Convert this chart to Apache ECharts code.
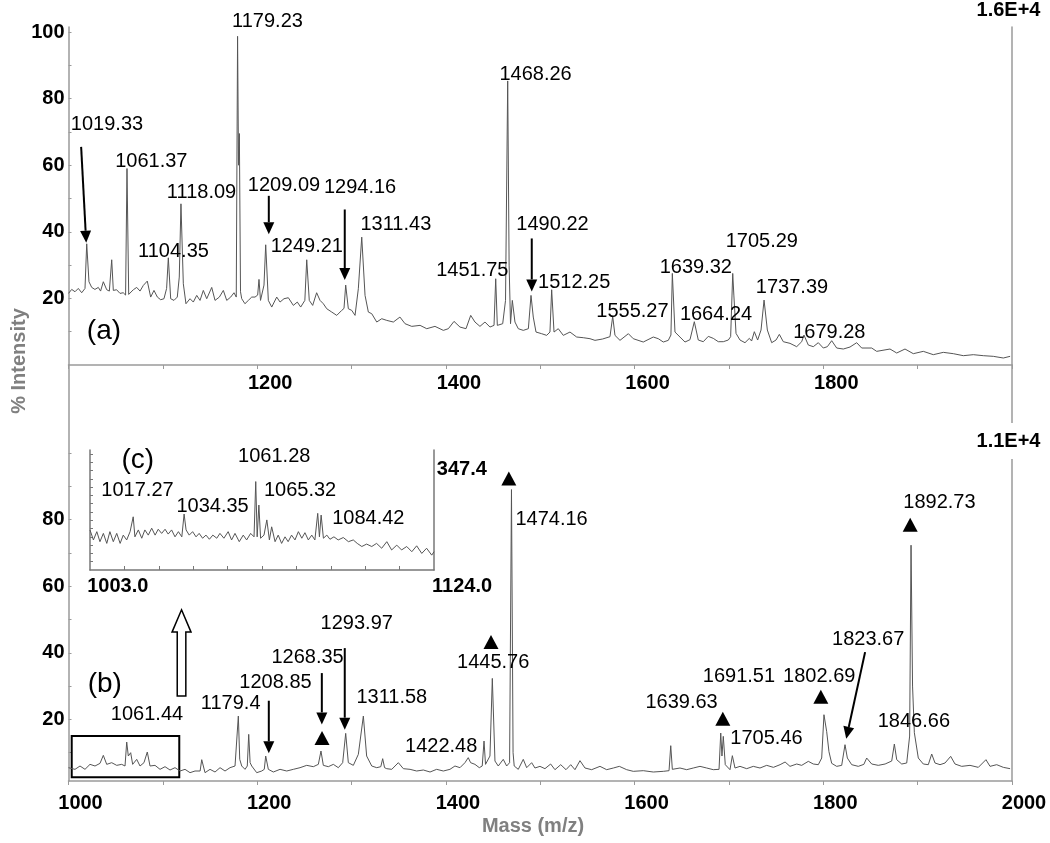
<!DOCTYPE html>
<html>
<head>
<meta charset="utf-8">
<script src="https://cdn.jsdelivr.net/npm/echarts@6/dist/echarts.min.js"></script>
<style>html,body{margin:0;padding:0;background:#fff}#c{width:1050px;height:843px}</style>
</head>
<body>
<div id="c"></div>
<script>
// ---------- DATA (m/z, % intensity) ----------
const topSpectrum = [[1000,21.5],[1003.4,22.7],[1006.9,22],[1010.4,23],[1014,21.7],[1017.5,23],[1019.3,36.4],[1021.7,25],[1024.6,23.3],[1028,22.7],[1031.6,23.3],[1034,22.2],[1036.9,25],[1040.5,22.6],[1043.3,22.2],[1045.8,31.6],[1047.5,22.4],[1051,22.6],[1054.6,21.5],[1058,21.7],[1060.5,21],[1062,59],[1063.8,21.2],[1068.7,22.6],[1072.3,23.3],[1075.8,22.2],[1079.3,23.9],[1083.5,25.2],[1087.1,20.4],[1090.6,22.4],[1094.2,20.4],[1097.7,19.6],[1101.2,19.9],[1104,23],[1105.8,32.2],[1108.3,19.9],[1111.8,19.4],[1115.3,20.4],[1117.4,26.4],[1119.2,48.4],[1121.7,24.4],[1124.5,18.4],[1128.8,19.9],[1132.3,18.9],[1135.9,20.9],[1139.4,19.4],[1142.9,22.4],[1146.5,19.9],[1151.8,23.3],[1155.3,19.4],[1159.9,20.4],[1164.1,22.4],[1167.7,19.4],[1171.9,20.4],[1175.4,21.7],[1177.8,20.4],[1179.2,98.7],[1180.2,60],[1181.1,69.5],[1182.3,22],[1183.6,19.9],[1187,18.4],[1190.6,19.4],[1194.2,20.4],[1197.7,20.4],[1200.5,21],[1201.9,25.7],[1203.5,19.4],[1204.8,19.4],[1207.2,24],[1209,36.1],[1211.8,19.4],[1215.4,17.4],[1220.7,20.4],[1224.2,18.9],[1228.4,19.9],[1233,20.2],[1238.3,17.9],[1242.5,18.9],[1246.1,17.4],[1250.5,19.4],[1252.5,31.6],[1255.2,19.4],[1258.8,17.9],[1263,21.7],[1266.6,19.4],[1270.1,18.4],[1273.7,16.9],[1279,15.9],[1284.3,14.9],[1289.6,16.4],[1292,17],[1293.8,24],[1296.6,16.9],[1300.2,16.4],[1303.7,14.9],[1307.2,22.9],[1310.8,38.4],[1314.3,20.9],[1317.8,15.9],[1321.4,15.4],[1326.7,12.9],[1332,13.9],[1337.3,13.4],[1344.3,12.9],[1351.3,14.4],[1356.7,12.4],[1363.8,11.6],[1372.6,11.9],[1379.7,10.9],[1388.4,11.6],[1397.3,10.4],[1402.6,10.9],[1408.6,13.1],[1414.9,11.4],[1421.3,10.9],[1426.3,14.9],[1430.8,12.9],[1436.1,11.6],[1441.4,12.9],[1446.7,11.4],[1451,11.9],[1452.8,25.9],[1454.5,11.9],[1460.2,12.4],[1463.2,19.4],[1465.5,85.3],[1467,30],[1468.5,12.4],[1470.4,19.4],[1473.2,12.9],[1476.7,10.9],[1482,10.4],[1487.4,10.9],[1490.2,20.9],[1492.6,14.4],[1495.5,9.9],[1501.5,9.4],[1506.8,8.9],[1510.3,9.9],[1512.1,22.6],[1514.6,9.9],[1519.1,10.9],[1524.4,8.9],[1531.5,9.9],[1538.6,8.4],[1545.6,8.2],[1552.7,7.9],[1558,7.4],[1566,7.8],[1573.9,8.5],[1576.8,14.6],[1579.2,8.9],[1584.5,7.4],[1593.4,9.4],[1598.6,7.9],[1609.2,6.9],[1619.8,8.4],[1625.1,7.9],[1630.4,6.9],[1635.7,7.4],[1638.5,9],[1640,27.5],[1642.8,9.9],[1648.1,8.4],[1653.4,6.9],[1658.7,7.6],[1663.3,13],[1667.5,7.5],[1672.8,7],[1678.1,8.6],[1683.4,8],[1688.7,7],[1694,7],[1699.3,7.5],[1701.8,8.5],[1704,27.5],[1705.2,21],[1707.5,9.5],[1711.7,7.5],[1717,6.7],[1721.6,8],[1724,7.2],[1726.9,10],[1730.4,7.5],[1734,10.5],[1737.2,19.5],[1740.7,10.5],[1745.3,6.7],[1749.9,7.5],[1753.4,9.2],[1757.6,7],[1764.7,6.5],[1771.8,5.5],[1777.1,7],[1779.5,9],[1784.1,6],[1789.4,5.5],[1794.7,6.7],[1800,5.1],[1804.3,5.5],[1808.9,7.3],[1814.2,5.1],[1821.2,4.8],[1828.3,5.4],[1835.4,6.7],[1840.7,5.1],[1851.3,5.1],[1856.6,4.1],[1870.7,4.8],[1877.8,3.6],[1886.6,4.8],[1895.4,3.4],[1906,4.1],[1916.6,3.1],[1927.2,3.8],[1937.8,3.4],[1948.4,2.8],[1959,3.1],[1969.6,2.8],[1980.2,2.6],[1990.8,2.1],[1998,2.6]];

const bottomSpectrum = [[1000,5.5],[1001.6,5.5],[1006.9,5],[1012.2,6],[1017.5,5],[1022.8,6.5],[1028.1,6],[1033.4,6.8],[1036.9,9.2],[1040.5,6.5],[1045.8,7],[1051.1,6.2],[1056.4,6.5],[1059.9,6],[1061.7,13.2],[1063.4,9],[1065.9,10],[1068,6.5],[1072.3,8],[1075.8,6],[1080,7],[1083.5,10.2],[1086.4,6],[1091.7,6.2],[1097,5],[1102.3,5.8],[1107.6,4.8],[1112.9,5.5],[1118.2,4.5],[1123.5,5],[1128.8,4],[1134.1,4.5],[1139.5,4.5],[1141.2,7.9],[1144.7,4],[1150,5],[1155.3,4.2],[1160.6,5.5],[1165.9,4.5],[1171.2,5.5],[1176.5,6],[1178.5,6],[1180,21],[1181.5,8],[1183.6,6],[1187.1,5],[1189.5,6],[1191,15.5],[1192.5,7],[1194.2,6],[1199.5,4],[1204.8,4.5],[1207.5,5],[1209,9],[1211.8,5],[1217.1,4.2],[1224.2,5],[1231.3,4.5],[1238.3,5],[1245.4,5.5],[1252.5,6.2],[1259.5,5.8],[1264.8,6.5],[1267.6,10.5],[1270.1,6.2],[1275.4,5.8],[1280.7,6.5],[1286,5.5],[1290.6,7],[1293.8,15.8],[1296.6,7],[1301.9,6.2],[1307.2,9.5],[1312.5,21],[1316,9],[1321.4,6],[1326.7,5.5],[1331,5.8],[1333,8.2],[1335,5.5],[1337.3,5.2],[1342.6,5],[1349.6,7],[1354.9,5.2],[1362,5],[1369,4.5],[1376.1,4.8],[1383.2,4.2],[1390.2,5],[1397.3,4.5],[1404.3,5],[1409.6,6],[1414.9,5.5],[1420.2,7],[1423.7,8.5],[1426.2,7],[1430.8,6.5],[1435.4,5.5],[1438.5,6],[1440.4,13.5],[1442,6.5],[1443.2,6.2],[1446.7,9],[1449.2,32.3],[1452,7.5],[1455.5,6],[1460.8,8],[1464.4,6],[1467.5,7],[1469.5,89],[1471.2,10],[1472.4,6],[1476.7,5],[1482,8],[1485.6,5.5],[1490.9,7],[1494.4,5.4],[1499.7,5.9],[1505,5.2],[1511,6.6],[1515.6,4.9],[1521.7,6.4],[1527.3,4.9],[1532.3,6.4],[1536.8,4.9],[1542.1,7.6],[1547.4,5.4],[1554.5,4.9],[1563.3,5.9],[1570.4,4.9],[1577.5,5.4],[1583.8,5.9],[1591.6,4.9],[1598.6,4.4],[1609.2,4.6],[1619.8,4.2],[1630.4,4.4],[1636.5,4.6],[1638.3,12.1],[1640,5],[1641,4.9],[1648.1,5.4],[1655.2,4.9],[1662.2,5.4],[1669.3,5.9],[1676.4,5.4],[1683.4,4.9],[1689.5,5],[1691.3,15.9],[1692.6,9],[1694,14.9],[1696.1,6.4],[1701.1,4.9],[1703.6,9.1],[1706.4,5.4],[1711.7,5.9],[1718.8,5.2],[1725.8,5.9],[1732.9,5.4],[1740,6.2],[1747.1,5.6],[1754.2,6.4],[1759.5,7.2],[1764.7,5.9],[1771.8,6.6],[1777.1,6.2],[1784.1,7.4],[1789.4,6.6],[1794.7,6.4],[1798.3,8.4],[1800.7,21.4],[1803.6,16.3],[1806,10.3],[1808.9,6.8],[1814.2,5.9],[1819.5,6.2],[1821.5,6.5],[1823,12.4],[1825.5,8.4],[1830.1,6.4],[1837.1,5.9],[1843,6.5],[1846,8.4],[1851.3,6.6],[1858.3,6.2],[1865.5,6.6],[1872.5,7.5],[1875.3,12.6],[1877.8,7.9],[1883.1,6.6],[1888.4,6.9],[1891.5,15],[1893,72.3],[1894.6,30],[1896.5,16],[1900.7,8.4],[1906,6.6],[1911.3,6.4],[1914.9,9.6],[1918.4,6.9],[1923.7,6.4],[1929,6.9],[1935,8.9],[1939.6,6.6],[1946.7,5.9],[1955.5,6.2],[1964.3,5.6],[1972.4,7.9],[1976.7,5.9],[1983.8,6.4],[1990.8,5.6],[1998,5.2]];

// inset (c): m/z 1003.0 - 1124.0, counts (max 347.4)
const insetSpectrum = [[1003,115.8],[1004.2,86.9],[1005.4,111],[1006.5,82],[1007.7,106],[1008.9,77],[1010,111],[1011.2,82],[1012.4,106],[1013.6,77],[1014.7,101],[1015.9,87],[1017.1,111],[1018.2,154],[1018.8,96],[1020,116],[1021.2,92],[1022.3,116],[1023.5,101],[1024.7,121],[1025.9,101],[1027,118],[1028.2,106],[1029.4,118],[1030.5,104],[1031.7,116],[1032.9,96],[1034.1,111],[1035.3,96],[1036.1,162],[1036.8,116],[1037.9,101],[1039.1,111],[1040.3,96],[1041.4,106],[1042.6,92],[1043.8,101],[1045,89],[1046.2,101],[1047.6,92],[1048.7,106],[1050.1,92],[1051.6,111],[1052.8,87],[1054,106],[1055.5,82],[1056.9,101],[1058.1,87],[1059.5,106],[1060.7,96],[1061.3,256],[1061.8,96],[1062.4,188],[1063,92],[1064.2,101],[1065.2,145],[1066.1,87],[1066.9,125],[1068.1,82],[1069.2,101],[1070.4,77],[1071.6,96],[1072.7,82],[1073.9,101],[1075.1,87],[1076.3,111],[1077.5,92],[1078.6,108],[1079.8,87],[1081,101],[1082.1,87],[1083.1,164],[1083.7,96],[1084.3,159],[1085.1,92],[1086.3,101],[1087.4,89],[1088.8,96],[1090.3,87],[1092.1,94],[1093.9,82],[1095.6,87],[1097,77],[1098.6,68],[1100.3,75],[1102.1,68],[1103.8,77],[1105.6,63],[1107.4,82],[1109.1,58],[1110.9,72],[1112.6,58],[1114.4,68],[1116.2,53],[1117.9,70],[1119.7,48],[1121.4,63],[1123.2,43],[1124,53]];

// tick / label values
const xTicks = [1000,1100,1200,1300,1400,1500,1600,1700,1800,1900,2000];
const xLabelsTop = [1200,1400,1600,1800];
const xLabelsBottom = [1000,1200,1400,1600,1800,2000];
const yTicks = [10,20,30,40,50,60,70,80,90,100];
const yLabelsTop = [20,40,60,80,100];
const yLabelsBottom = [20,40,60,80];
const insetXTicks = [1015.1,1027.2,1039.3,1051.4,1063.5,1075.6,1087.7,1099.8,1111.9];
const insetYTicks = [24,48,72,96,120,144,168,192,216,240,264,288,312,336];

// annotations [m/z, intensity, text]
const topLabels = [[1210.9,103.3,'1179.23'],[1040.8,72.2,'1019.33'],[1087.8,61.1,'1061.37'],[1141,51.7,'1118.09'],[1111.3,34,'1104.35'],[1228.4,54,'1209.09'],[1309,53.3,'1294.16'],[1252.6,35.5,'1249.21'],[1347,42.1,'1311.43'],[1428,28.4,'1451.75'],[1495,87.3,'1468.26'],[1513,42.2,'1490.22'],[1536,24.8,'1512.25'],[1597.7,16.2,'1555.27'],[1664.9,29.4,'1639.32'],[1734.8,37,'1705.29'],[1686.3,15.2,'1664.24'],[1766.8,23.3,'1737.39'],[1806.4,9.8,'1679.28']];
const bottomLabels = [[1305.5,48.8,'1293.97'],[1253.4,38.7,'1268.35'],[1219.4,31.1,'1208.85'],[1171.9,24.8,'1179.4'],[1342.7,26.6,'1311.58'],[1083.2,21.5,'1061.44'],[1395,11.9,'1422.48'],[1450.1,37,'1445.76'],[1512,80,'1474.16'],[1923.1,85,'1892.73'],[1847.6,43.9,'1823.67'],[1710.6,32.9,'1691.51'],[1795.7,32.9,'1802.69'],[1649.8,25.1,'1639.63'],[1739.8,14.4,'1705.46'],[1896,19.5,'1846.66']];
const insetLabels = [[1019.7,229,'1017.27'],[1046.1,183,'1034.35'],[1067.8,328,'1061.28'],[1076.9,231.6,'1065.32'],[1100.9,149.7,'1084.42']];
const insetAxisLabels = [[1002,-49,'1003.0'],[1123.3,-49,'1124.0'],[1125,292,'347.4']];
const topLetter = [[1037.6,10.1,'(a)']];
const bottomLetter = [[1038.5,30.4,'(b)']];
const insetLetter = [[1019.8,319,'(c)']];

// arrows [fromX, fromY, tipX, tipY]
const topArrows = [[1013.4,65.5,1018.8,36.7],[1212.3,50.8,1212.3,39.3],[1292.8,46.7,1292.8,25.5],[1491,38,1491,22.1]];
const bottomArrows = [[1212.3,25.6,1212.3,9.8],[1268.5,33.9,1268.5,18.5],[1292.8,41.4,1292.8,16.9],[1844.3,40.2,1824.3,14.2]];
// triangles marking peaks (bottom)
const triangles = [[1268.7,14.4],[1447.8,43.2],[1466.7,92.3],[1892.1,78.4],[1693.5,20.2],[1797.4,26.8]];
// hollow arrow [x, tipY, headBaseY, bottomY]
const hollowArrow = [[1119.8,52.9,46.2,27]];
// zoom box [x1, y1, x2, y2]
const zoomBox = [1003.4,2.6,1117.4,15];

// ---------- CHART ----------
const FONT = '"Liberation Sans", Arial, Helvetica, sans-serif';
const AX = '#9a9a9a';
const chart = echarts.init(document.getElementById('c'), null, {renderer:'canvas'});

function toNamed(arr){ return arr.map(a => ({value:[a[0],a[1]], name:a[2]})); }
function labelSeries(arr, xi, yi, opts){
  return {
    type:'scatter', xAxisIndex:xi, yAxisIndex:yi, clip:false, silent:true,
    symbol:'circle', symbolSize:1, itemStyle:{color:'rgba(0,0,0,0)', opacity:1},
    data: toNamed(arr), z:10,
    label: Object.assign({show:true, position:'inside', formatter:'{b}', color:'#000', opacity:1,
      textBorderWidth:0, fontSize:20, fontFamily:FONT}, opts||{})
  };
}
function arrowSeries(arr, xi, yi){
  return {
    type:'custom', xAxisIndex:xi, yAxisIndex:yi, silent:true, z:9,
    encode:{x:[0,2], y:[1,3]},
    data: arr,
    renderItem: function(params, api){
      const p1 = api.coord([api.value(0), api.value(1)]);
      const p2 = api.coord([api.value(2), api.value(3)]);
      const dx = p2[0]-p1[0], dy = p2[1]-p1[1];
      const L = Math.sqrt(dx*dx+dy*dy), ux = dx/L, uy = dy/L;
      const hl = 12, hw = 5.5;
      const bx = p2[0]-ux*hl, by = p2[1]-uy*hl;
      return {type:'group', children:[
        {type:'line', shape:{x1:p1[0], y1:p1[1], x2:bx, y2:by}, style:{stroke:'#000', lineWidth:2}},
        {type:'polygon', shape:{points:[[p2[0],p2[1]],[bx-uy*hw, by+ux*hw],[bx+uy*hw, by-ux*hw]]}, style:{fill:'#000'}}
      ]};
    }
  };
}
const plain = v => String(v);
const labelStyle = {color:'#000', fontSize:20, fontWeight:'bold', fontFamily:FONT, formatter:plain};

const option = {
  animation:false,
  backgroundColor:'#fff',
  grid:[
    {left:68.5, right:38, top:27, bottom:478, outerBoundsMode:'none'},
    {left:68.5, right:38, top:365, bottom:62, outerBoundsMode:'none'},
    {left:90, right:616, top:450, bottom:273, outerBoundsMode:'none'}
  ],
  xAxis:[
    {gridIndex:0, type:'value', min:1000, max:2000,
     axisLine:{show:true, onZero:false, lineStyle:{color:AX, width:1.5}},
     axisTick:{show:true, customValues:xTicks, length:4, lineStyle:{color:AX}},
     axisLabel:Object.assign({customValues:xLabelsTop, margin:8, padding:[0,0,0,26]}, labelStyle),
     splitLine:{show:false}},
    {gridIndex:1, type:'value', min:1000, max:2000,
     axisLine:{show:true, onZero:false, lineStyle:{color:AX, width:1.5}},
     axisTick:{show:true, customValues:xTicks, length:4, lineStyle:{color:AX}},
     axisLabel:Object.assign({customValues:xLabelsBottom, margin:12, padding:[0,0,0,24]}, labelStyle),
     splitLine:{show:false}},
    {gridIndex:2, type:'value', min:1003, max:1124,
     axisLine:{show:true, onZero:false, lineStyle:{color:'#777', width:1.5}},
     axisTick:{show:true, inside:true, customValues:insetXTicks, length:4, lineStyle:{color:'#777'}},
     axisLabel:{show:false}, splitLine:{show:false}}
  ],
  yAxis:[
    {gridIndex:0, type:'value', min:0, max:101.5,
     axisLine:{show:true, onZero:false, lineStyle:{color:AX, width:1.5}},
     axisTick:{show:true, inside:true, customValues:yTicks, length:3, lineStyle:{color:AX}},
     axisLabel:Object.assign({customValues:yLabelsTop, margin:4, padding:[6,0,0,0]}, labelStyle),
     splitLine:{show:false}},
    {gridIndex:0, type:'value', position:'right', min:0, max:101.5,
     axisLine:{show:true, onZero:false, lineStyle:{color:AX, width:1.5}},
     axisTick:{show:false}, axisLabel:{show:false}, splitLine:{show:false}},
    {gridIndex:1, type:'value', min:1.5, max:126.4,
     axisLine:{show:true, onZero:false, lineStyle:{color:AX, width:1.5}},
     axisTick:{show:true, inside:true, customValues:yTicks, length:3, lineStyle:{color:AX}},
     axisLabel:Object.assign({customValues:yLabelsBottom, margin:4, padding:[6,0,0,0]}, labelStyle),
     splitLine:{show:false}},
    {gridIndex:1, type:'value', position:'right', min:1.5, max:126.4,
     axisLine:{show:true, onZero:false, lineStyle:{color:AX, width:1.5}},
     axisTick:{show:false}, axisLabel:{show:false}, splitLine:{show:false}},
    {gridIndex:2, type:'value', min:0, max:347.4,
     axisLine:{show:true, onZero:false, lineStyle:{color:'#777', width:1.5}},
     axisTick:{show:true, inside:true, customValues:insetYTicks, length:3, lineStyle:{color:'#777'}},
     axisLabel:{show:false}, splitLine:{show:false}},
    {gridIndex:2, type:'value', position:'right', min:0, max:347.4,
     axisLine:{show:true, onZero:false, lineStyle:{color:'#777', width:1.5}},
     axisTick:{show:false}, axisLabel:{show:false}, splitLine:{show:false}}
  ],
  series:[
    {type:'line', xAxisIndex:0, yAxisIndex:0, data:topSpectrum, symbol:'none',
     lineStyle:{color:'#555', width:1}, silent:true},
    {type:'line', xAxisIndex:1, yAxisIndex:2, data:bottomSpectrum, symbol:'none',
     lineStyle:{color:'#555', width:1}, silent:true,
     markArea:{silent:true, itemStyle:{color:'rgba(0,0,0,0)', borderColor:'#000', borderWidth:2, opacity:1},
       data:[[{coord:[zoomBox[0], zoomBox[1]]},{coord:[zoomBox[2], zoomBox[3]]}]]}},
    {type:'line', xAxisIndex:2, yAxisIndex:4, data:insetSpectrum, symbol:'none',
     lineStyle:{color:'#555', width:1}, silent:true},
    labelSeries(topLabels, 0, 0),
    labelSeries(bottomLabels, 1, 2),
    labelSeries(insetLabels, 2, 4),
    labelSeries(topLetter, 0, 0, {fontSize:28}),
    labelSeries(bottomLetter, 1, 2, {fontSize:28}),
    labelSeries(insetLetter, 2, 4, {fontSize:28}),
    labelSeries(insetAxisLabels, 2, 4, {fontWeight:'bold', align:'left'}),
    arrowSeries(topArrows, 0, 0),
    arrowSeries(bottomArrows, 1, 2),
    {type:'scatter', xAxisIndex:1, yAxisIndex:2, data:triangles, symbol:'triangle',
     symbolSize:[15,14], itemStyle:{color:'#000', opacity:1}, clip:false, silent:true, z:9},
    {type:'custom', xAxisIndex:1, yAxisIndex:2, silent:true, z:9,
     encode:{x:0, y:[1,2,3]}, data:hollowArrow,
     renderItem:function(params, api){
       const t = api.coord([api.value(0), api.value(1)]);
       const h = api.coord([api.value(0), api.value(2)]);
       const b = api.coord([api.value(0), api.value(3)]);
       const cx = t[0], hw = 9.5, sw = 4.3;
       return {type:'polygon', shape:{points:[[cx,t[1]],[cx+hw,h[1]],[cx+sw,h[1]],[cx+sw,b[1]],[cx-sw,b[1]],[cx-sw,h[1]],[cx-hw,h[1]]]},
         style:{fill:'#fff', stroke:'#000', lineWidth:1.5}};
     }}
  ],
  graphic:[
    {type:'text', x:1008.5, y:10, z:100, style:{text:'1.6E+4', fill:'#000', font:'bold 20px '+FONT, align:'center', verticalAlign:'middle', textAlign:'center', textVerticalAlign:'middle'}},
    {type:'text', x:1008.5, y:441, z:100, style:{text:'1.1E+4', fill:'#000', font:'bold 20px '+FONT, align:'center', verticalAlign:'middle', textAlign:'center', textVerticalAlign:'middle', backgroundColor:'#fff', padding:[8,2,8,2]}},
    {type:'text', x:533, y:826, z:100, style:{text:'Mass (m/z)', fill:'#808080', font:'bold 20px '+FONT, align:'center', verticalAlign:'middle', textAlign:'center', textVerticalAlign:'middle'}},
    {type:'text', x:19, y:361, rotation:Math.PI/2, z:100, style:{text:'% Intensity', fill:'#808080', font:'bold 20px '+FONT, align:'center', verticalAlign:'middle', textAlign:'center', textVerticalAlign:'middle'}}
  ]
};
chart.setOption(option);
</script>
</body>
</html>
